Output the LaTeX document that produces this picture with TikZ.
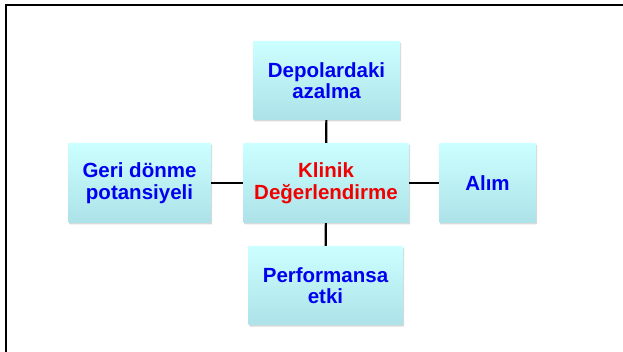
\documentclass[tikz,border=0pt]{standalone}
\usepackage{fontspec}
\setmainfont{Liberation Sans}
\usepackage{tikz}
\usetikzlibrary{shadows,positioning}
\definecolor{boxtop}{RGB}{204,255,255}
\definecolor{boxbot}{RGB}{172,226,232}
\definecolor{txtblue}{RGB}{0,0,240}
\definecolor{txtred}{RGB}{240,0,0}
\tikzstyle{box}=[rectangle, rounded corners=1pt, top color=boxtop, bottom color=boxbot, draw=none, drop shadow={shadow xshift=1pt, shadow yshift=-1.5pt, opacity=0.3}, align=center, font=\fontsize{20.5}{21.5}\selectfont\bfseries, text=txtblue, inner sep=0pt]
\tikzstyle{link}=[line width=2.1pt, black]

\begin{document}
\begin{tikzpicture}[x=1pt,y=-1pt]
				\useasboundingbox (0,0) rectangle (623,352);
				\draw[line width=2pt] (5.5,352)--(5.5,5.5)--(623,5.5);
				
				\node[box, minimum width=147pt, minimum height=79pt] (D)at(326.5,80.5){Depolardaki\\azalma};
				\node[box, minimum width=166pt, minimum height=80pt, text=txtred] (K)at(326,183){Klinik\\Değerlendirme};
				\node[box, minimum width=97pt, minimum height=80pt] (A)at(487.5,183){Alım};
				\node[box, minimum width=143pt, minimum height=80pt] (G)at(139.5,183){Geri dönme\\potansiyeli};
				\node[box, minimum width=155pt, minimum height=79pt] (P)at(325.5,285.5){Performansa\\etki};
				
				\draw[link](D)--(K);
				\draw[link](K)--(P);
				\draw[link](G)--(K);
				\draw[link](K)--(A);
			\end{tikzpicture}
\end{document}
